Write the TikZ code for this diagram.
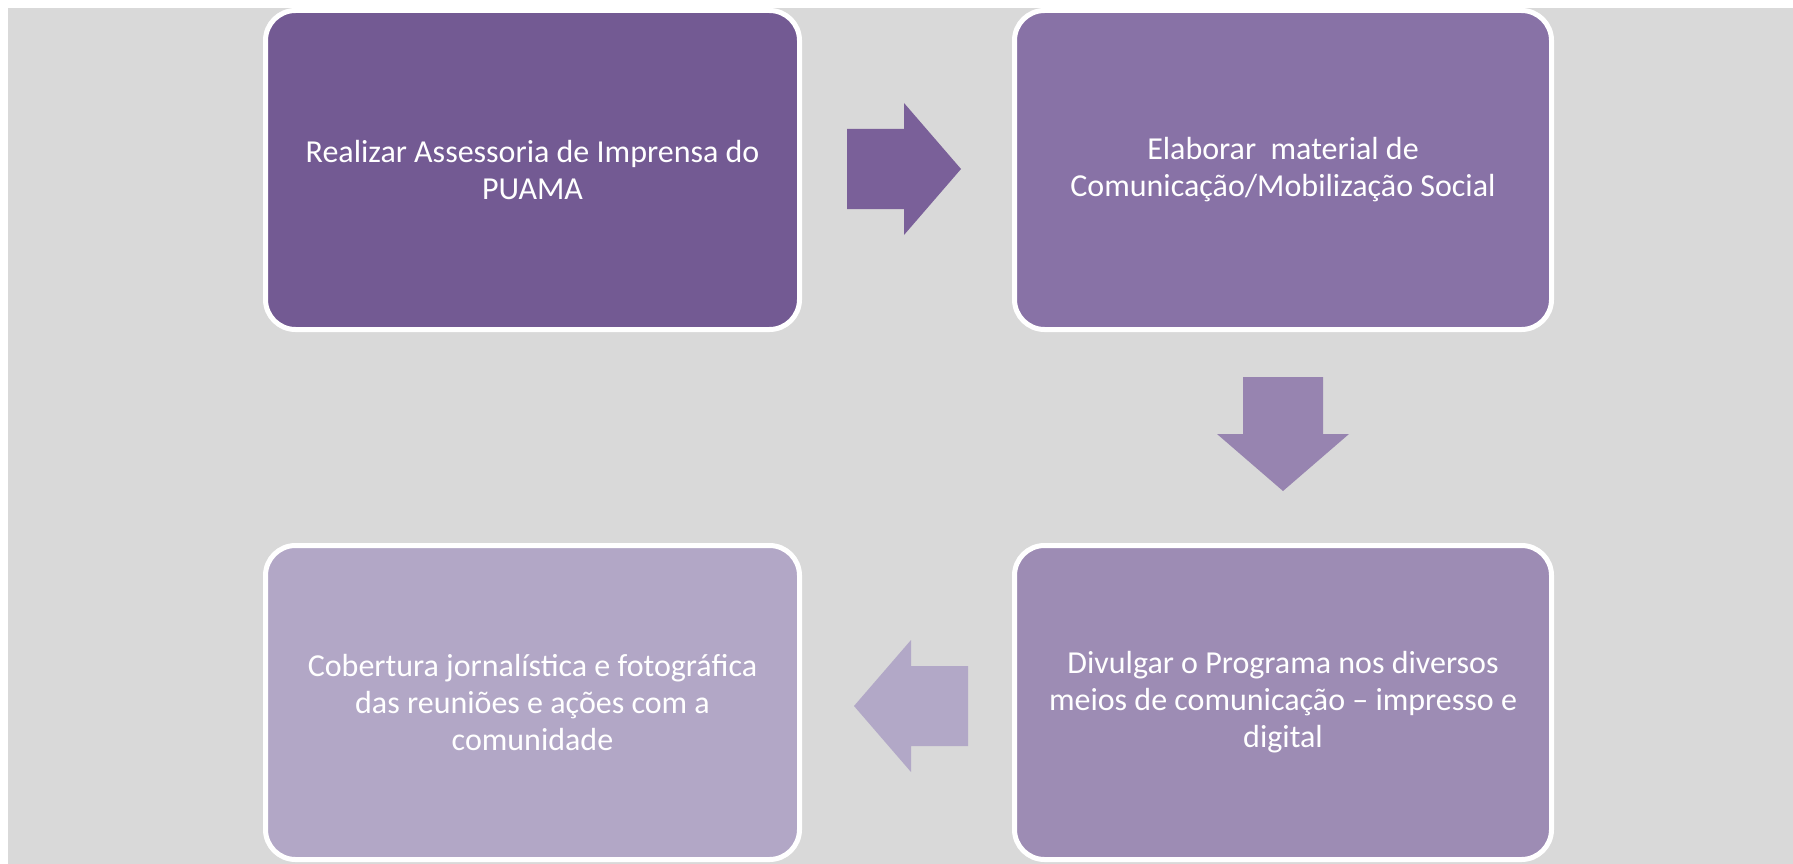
\documentclass[tikz,border=0pt]{standalone}
\usepackage{fontspec}
\setmainfont{Carlito}
\definecolor{bggray}{HTML}{D9D9D9}
\definecolor{stepA}{HTML}{735A93}
\definecolor{stepB}{HTML}{8872A6}
\definecolor{stepC}{HTML}{9D8CB4}
\definecolor{stepD}{HTML}{B2A7C6}
\definecolor{arrowA}{HTML}{7A6099}
\definecolor{arrowB}{HTML}{9784B0}
\definecolor{arrowC}{HTML}{B2A8C7}
\tikzset{
    stepbox/.style={rectangle, rounded corners=30pt, draw=white, line width=5pt, inner sep=0mm, text=white, align=center, font=\fontsize{32}{37}\selectfont}
}
\tikzset{topbox/.style={stepbox, minimum height=319pt}}
\tikzset{lowbox/.style={stepbox, minimum height=314pt}}

\begin{document}
\begin{tikzpicture}[x=1pt, y=-1pt]
        \useasboundingbox (0,0) rectangle (1793,864);
        \fill[bggray] (8,8) rectangle (1793,864);
        \node (b1) [topbox, fill=stepA, minimum width=534pt] at (532.5,170) {Realizar Assessoria de Imprensa do\\PUAMA};
        \node (b2) [topbox, fill=stepB, minimum width=537pt] at (1283,170) {Elaborar\ \ material de\\Comunicação/Mobilização Social};
        \node (b3) [lowbox, fill=stepC, minimum width=537pt] at (1283,702.5) {Divulgar o Programa nos diversos\\meios de comunicação -- impresso e\\digital};
        \node (b4) [lowbox, fill=stepD, minimum width=534pt] at (532.5,702.5) {Cobertura jornalística e fotográfica\\das reuniões e ações com a\\comunidade};
        \coordinate (a1) at (904,169);
        \coordinate (a2) at (1283,434);
        \coordinate (a3) at (911,706);
        \fill[arrowA] (a1) ++(-57,-40) -- ++(57,0) -- ++(0,-26) -- ++(57,66) -- ++(-57,66) -- ++(0,-26) -- ++(-57,0) -- cycle;
        \fill[arrowB] (a2) ++(-40,-57) -- ++(80,0) -- ++(0,57) -- ++(26,0) -- ++(-66,57) -- ++(-66,-57) -- ++(26,0) -- cycle;
        \fill[arrowC] (a3) ++(57,-40) -- ++(-57,0) -- ++(0,-26) -- ++(-57,66) -- ++(57,66) -- ++(0,-26) -- ++(57,0) -- cycle;
\end{tikzpicture}
\end{document}
